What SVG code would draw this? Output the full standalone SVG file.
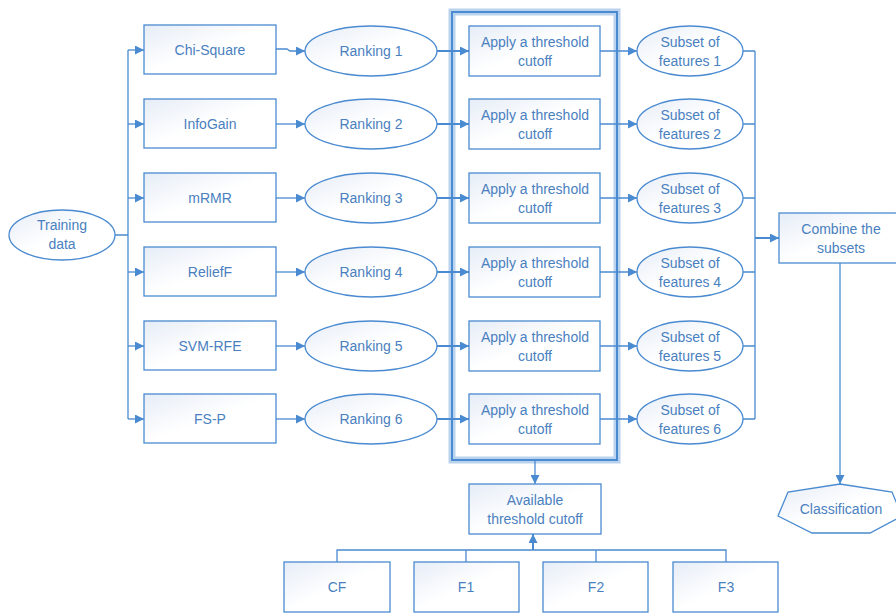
<svg xmlns="http://www.w3.org/2000/svg" width="896" height="613" viewBox="0 0 896 613">
<defs>
<linearGradient id="g" x1="0" y1="0" x2="1" y2="1">
<stop offset="0" stop-color="#e6edf7"/>
<stop offset="0.5" stop-color="#ffffff"/>
<stop offset="1" stop-color="#ffffff"/>
</linearGradient>
<marker id="a" viewBox="0 0 10 10" refX="10" refY="5" markerWidth="9" markerHeight="9" markerUnits="userSpaceOnUse" orient="auto">
<path d="M0,0 L10,5 L0,10 z" fill="#4a8ad0"/>
</marker>
<style>
.n{fill:url(#g);stroke:#4a8ad0;stroke-width:1.3}
.t{font-family:"Liberation Sans",Arial,sans-serif;font-size:14px;fill:#4a7fc0;text-anchor:middle}
.c{fill:none;stroke:#4a8ad0;stroke-width:1.3}
.ca{fill:none;stroke:#4a8ad0;stroke-width:1.3;marker-end:url(#a)}
.cb{fill:none;stroke:#4a8ad0;stroke-width:2;marker-end:url(#a)}
</style>
</defs>
<rect width="896" height="613" fill="#fff"/>
<g id="frame">
<rect x="452" y="12" width="165" height="448" fill="none" stroke="#b9d2ee" stroke-width="7"/>
<rect x="452" y="12" width="165" height="448" fill="none" stroke="#4a8ad0" stroke-width="2"/>
</g>
<g id="connectors">
<path class="c" d="M115,235 H128 M128,50 V419"/>
<path class="ca" d="M128,50 H144"/>
<path class="ca" d="M128,124 H144"/>
<path class="ca" d="M128,198 H144"/>
<path class="ca" d="M128,272 H144"/>
<path class="ca" d="M128,346 H144"/>
<path class="ca" d="M128,419 H144"/>
<path class="ca" d="M276,49 H287 L290,51 H305"/>
<path class="ca" d="M276,124 H305"/>
<path class="ca" d="M276,198 H305"/>
<path class="ca" d="M276,272 H305"/>
<path class="ca" d="M276,346 H305"/>
<path class="ca" d="M276,419 H305"/>
<path class="cb" d="M437,51 H469"/>
<path class="cb" d="M437,124 H469"/>
<path class="cb" d="M437,198 H469"/>
<path class="cb" d="M437,272 H469"/>
<path class="cb" d="M437,346 H469"/>
<path class="cb" d="M437,419 H469"/>
<path class="ca" d="M600,51 H637"/>
<path class="ca" d="M600,124 H637"/>
<path class="ca" d="M600,198 H637"/>
<path class="ca" d="M600,272 H637"/>
<path class="ca" d="M600,346 H637"/>
<path class="ca" d="M600,419 H637"/>
<path class="c" d="M743,51 H755 M743,124 H755 M743,198 H755 M743,272 H755 M743,346 H755 M743,419 H755 M755,51 V419"/>
<path class="cb" d="M755,238 H779"/>
<path class="ca" d="M840,263 V484"/>
<path class="ca" d="M535,460 V484"/>
<path class="c" d="M337,562 V550 H726 V562 M466,550 V562 M596,550 V562"/>
<path class="cb" d="M533,550 V534"/>
</g>
<g id="training"><ellipse class="n" cx="62" cy="235" rx="53" ry="25"/><text class="t" x="62" y="230">Training</text><text class="t" x="62" y="249">data</text></g>
<g id="chisquare"><rect class="n" x="144" y="25" width="132" height="49"/><text class="t" x="210" y="55">Chi-Square</text></g>
<g id="infogain"><rect class="n" x="144" y="99" width="132" height="49"/><text class="t" x="210" y="129">InfoGain</text></g>
<g id="mrmr"><rect class="n" x="144" y="173" width="132" height="49"/><text class="t" x="210" y="203">mRMR</text></g>
<g id="relieff"><rect class="n" x="144" y="247" width="132" height="49"/><text class="t" x="210" y="277">ReliefF</text></g>
<g id="svmrfe"><rect class="n" x="144" y="321" width="132" height="49"/><text class="t" x="210" y="351">SVM-RFE</text></g>
<g id="fsp"><rect class="n" x="144" y="394" width="132" height="49"/><text class="t" x="210" y="424">FS-P</text></g>
<g id="rank1"><ellipse class="n" cx="371" cy="51" rx="66" ry="25"/><text class="t" x="371" y="56">Ranking 1</text></g>
<g id="rank2"><ellipse class="n" cx="371" cy="124" rx="66" ry="25"/><text class="t" x="371" y="129">Ranking 2</text></g>
<g id="rank3"><ellipse class="n" cx="371" cy="198" rx="66" ry="25"/><text class="t" x="371" y="203">Ranking 3</text></g>
<g id="rank4"><ellipse class="n" cx="371" cy="272" rx="66" ry="25"/><text class="t" x="371" y="277">Ranking 4</text></g>
<g id="rank5"><ellipse class="n" cx="371" cy="346" rx="66" ry="25"/><text class="t" x="371" y="351">Ranking 5</text></g>
<g id="rank6"><ellipse class="n" cx="371" cy="419" rx="66" ry="25"/><text class="t" x="371" y="424">Ranking 6</text></g>
<g id="apply1"><rect class="n" x="469" y="26" width="131" height="50"/><text class="t" x="535" y="47">Apply a threshold</text><text class="t" x="535" y="66">cutoff</text></g>
<g id="apply2"><rect class="n" x="469" y="99" width="131" height="50"/><text class="t" x="535" y="120">Apply a threshold</text><text class="t" x="535" y="139">cutoff</text></g>
<g id="apply3"><rect class="n" x="469" y="173" width="131" height="50"/><text class="t" x="535" y="194">Apply a threshold</text><text class="t" x="535" y="213">cutoff</text></g>
<g id="apply4"><rect class="n" x="469" y="247" width="131" height="50"/><text class="t" x="535" y="268">Apply a threshold</text><text class="t" x="535" y="287">cutoff</text></g>
<g id="apply5"><rect class="n" x="469" y="321" width="131" height="50"/><text class="t" x="535" y="342">Apply a threshold</text><text class="t" x="535" y="361">cutoff</text></g>
<g id="apply6"><rect class="n" x="469" y="394" width="131" height="50"/><text class="t" x="535" y="415">Apply a threshold</text><text class="t" x="535" y="434">cutoff</text></g>
<g id="subset1"><ellipse class="n" cx="690" cy="51" rx="53" ry="25"/><text class="t" x="690" y="47">Subset of</text><text class="t" x="690" y="66">features 1</text></g>
<g id="subset2"><ellipse class="n" cx="690" cy="124" rx="53" ry="25"/><text class="t" x="690" y="120">Subset of</text><text class="t" x="690" y="139">features 2</text></g>
<g id="subset3"><ellipse class="n" cx="690" cy="198" rx="53" ry="25"/><text class="t" x="690" y="194">Subset of</text><text class="t" x="690" y="213">features 3</text></g>
<g id="subset4"><ellipse class="n" cx="690" cy="272" rx="53" ry="25"/><text class="t" x="690" y="268">Subset of</text><text class="t" x="690" y="287">features 4</text></g>
<g id="subset5"><ellipse class="n" cx="690" cy="346" rx="53" ry="25"/><text class="t" x="690" y="342">Subset of</text><text class="t" x="690" y="361">features 5</text></g>
<g id="subset6"><ellipse class="n" cx="690" cy="419" rx="53" ry="25"/><text class="t" x="690" y="415">Subset of</text><text class="t" x="690" y="434">features 6</text></g>
<g id="combine"><rect class="n" x="779" y="213" width="124" height="50"/><text class="t" x="841" y="234">Combine the</text><text class="t" x="841" y="253">subsets</text></g>
<g id="classification"><polygon class="n" points="840,484 892,492 902,516 870,533 812,533 778,516 788,492"/><text class="t" x="841" y="514">Classification</text></g>
<g id="available"><rect class="n" x="469" y="484" width="132" height="50"/><text class="t" x="535" y="505">Available</text><text class="t" x="535" y="524">threshold cutoff</text></g>
<g id="cf"><rect class="n" x="284" y="562" width="106" height="50"/><text class="t" x="337" y="592">CF</text></g>
<g id="f1"><rect class="n" x="414" y="562" width="105" height="50"/><text class="t" x="466" y="592">F1</text></g>
<g id="f2"><rect class="n" x="543" y="562" width="105" height="50"/><text class="t" x="596" y="592">F2</text></g>
<g id="f3"><rect class="n" x="673" y="562" width="105" height="50"/><text class="t" x="726" y="592">F3</text></g>
</svg>
